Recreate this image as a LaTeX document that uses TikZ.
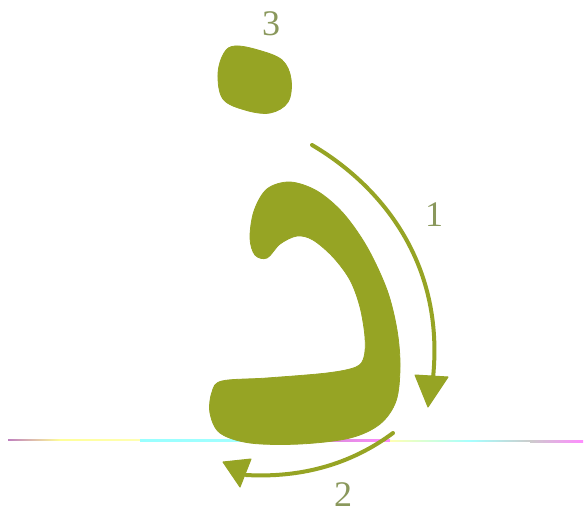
\documentclass[tikz,border=0pt]{standalone}
\usepackage{fontspec}
\setmainfont{Liberation Serif}
\definecolor{olive}{RGB}{150,164,36}
\definecolor{digit}{RGB}{138,152,92}
\tikzset{
  letter/.style={fill=olive, draw=olive, line width=0.8pt},
  shaft/.style={draw=olive, line width=4pt, line cap=round},
  head/.style={fill=olive, draw=olive, line width=1pt, line join=round},
  num/.style={text=digit, font=\fontsize{36}{36}\selectfont, inner sep=0pt},
}
\begin{document}
\begin{tikzpicture}[x=1pt,y=-1pt]
\useasboundingbox[fill=white] (0,0) rectangle (585,519);
% baseline with printing colour fringes
\shade[left color=violet!50, right color=yellow!40] (8,439.3) rectangle (60,440.7);
\shade[left color=yellow!40, right color=yellow!30] (60,439.4) rectangle (140,440.8);
\shade[left color=cyan!40, right color=cyan!35] (140,439.6) rectangle (290,441.0);
\shade[left color=violet!45, right color=magenta!45] (290,439.8) rectangle (390,441.2);
\shade[left color=yellow!30, right color=cyan!35] (390,440.2) rectangle (470,441.6);
\shade[left color=cyan!35, right color=gray!40] (470,440.5) rectangle (530,441.9);
\shade[left color=gray!40, right color=magenta!45] (530,440.8) rectangle (583,442.2);
% dot
\path[letter] plot[smooth cycle, tension=0.6] coordinates {
  (235,46) (258,50) (282,60) (291,79) (288,102) (270,113)
  (245,110) (223,99) (218,74) (224,53)};
% letter body
\path[letter] plot[smooth cycle, tension=0.55] coordinates {
  (267,258) (280,244) (297,236) (313,240) (333,257) (350,280)
  (360,307) (365,337) (364,357) (356,367) (327,373) (267,378)
  (222,381) (212,392) (210,413) (220,433) (250,443) (300,444)
  (350,438) (380,424) (396,401) (400,367) (397,330) (387,290)
  (367,247) (343,213) (317,191) (290,182) (267,189) (254,211)
  (250,238) (255,255)};
% arrow 1
\draw[shaft] (312,145) .. controls (380,185) and (445,262) .. (433,378);
\path[head] (415,375) -- (448,377) -- (428,407) -- cycle;
% arrow 2
\draw[shaft] (393,433) .. controls (350,465) and (300,478) .. (246,475);
\path[head] (223,462) -- (251,459) -- (240,487) -- cycle;
% numbers
\node[num] (n3) at (271,24) {3};
\node[num] (n1) at (434,215) {1};
\node[num] (n2) at (343,495) {2};
\end{tikzpicture}
\end{document}
